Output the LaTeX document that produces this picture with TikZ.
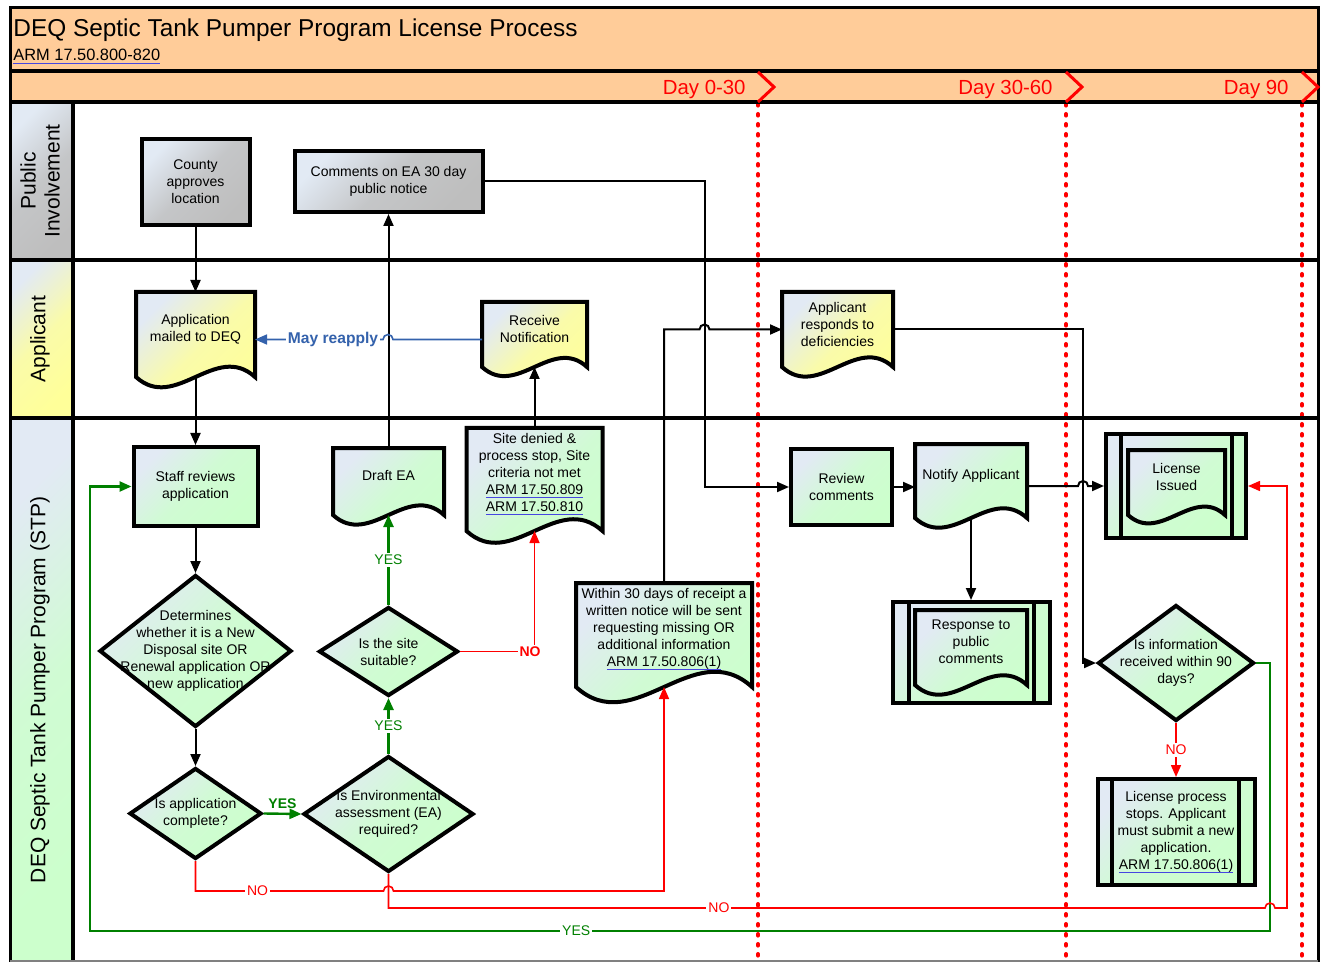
\documentclass[tikz,border=0pt]{standalone}
\usepackage{fontspec}
\setmainfont{Liberation Sans}
\usetikzlibrary{calc}
\usetikzlibrary{positioning}
\usetikzlibrary{shapes.geometric, arrows.meta}

\definecolor{peach}{RGB}{255,204,153}
\definecolor{pale}{RGB}{226,234,244}
\definecolor{lgreen}{RGB}{204,255,204}
\definecolor{lyellow}{RGB}{255,255,153}
\definecolor{lgray}{RGB}{190,190,190}
\definecolor{yesgreen}{RGB}{0,128,0}
\definecolor{nored}{RGB}{255,0,0}
\definecolor{reblue}{RGB}{52,98,172}
\definecolor{armblue}{RGB}{70,70,225}

\newcommand{\nodefont}{\fontsize{7}{8.5}\selectfont}
\newsavebox{\armbox}
\newcommand{\armref}[1]{\sbox{\armbox}{#1}\rlap{\color{armblue}\rule[-1.6pt]{\wd\armbox}{0.5pt}}\usebox{\armbox}}

\tikzset{grad/.style={top color=pale, bottom color=#1, middle color=#1!82!pale, shading angle=45}}
\tikzstyle{box} = [draw, line width=2pt, inner sep=1pt, align=center, font=\nodefont]
\tikzstyle{graybox} = [box, grad=lgray]
\tikzstyle{greenbox} = [box, grad=lgreen]
\tikzstyle{decision} = [greenbox, diamond, inner sep=0pt]
\tikzstyle{doc} = [inner sep=0pt, outer sep=0pt]
\tikzstyle{txt} = [font=\nodefont, align=center, inner sep=0pt]
\tikzstyle{docline} = [line width=2pt]
\tikzstyle{arrow} = [line width=1pt, -{Triangle[length=6pt,width=5pt]}]
\tikzstyle{yesarrow} = [arrow, yesgreen, line width=1.2pt]
\tikzstyle{noarrow} = [arrow, nored, line width=0.8pt]
\tikzstyle{yeslabel} = [font=\nodefont, text=yesgreen, fill=white, inner sep=1pt]
\tikzstyle{nolabel} = [font=\nodefont, text=nored, fill=white, inner sep=1pt]
\tikzstyle{lane} = [font=\fontsize{10.5}{12}\selectfont, align=center, rotate=90]
\tikzstyle{daymark} = [nored, line width=1.5pt]
\tikzstyle{daylabel} = [font=\fontsize{10.2}{12}\selectfont, text=nored, anchor=base east, inner sep=0pt]
\tikzstyle{dayline} = [nored, line width=2pt, line cap=round, dash pattern=on 0.8pt off 4.2pt]
\tikzstyle{sepline} = [line width=2pt]

% document shape with wavy bottom, drawn round a placeholder node
\newcommand{\docshape}[3]{%
  \draw[docline, grad=#2]
    let \p1=(#1.south west), \p2=(#1.south east), \n1={\x2-\x1} in
    (#1.north west) -- (#1.north east) -- (\p2)
    .. controls +({-0.33*\n1},{0.3*\n1}) and +({0.33*\n1},{-0.3*\n1}) .. (\p1) -- cycle;
  \node[txt] (#1 text) at ([yshift=2.75pt]#1.center) {#3};}
% side bars of a predefined process box
\newcommand{\subbars}[3]{%
  \draw[docline] ($(#1.north west)+(#2,0)$) -- ($(#1.south west)+(#2,0)$)
    ($(#1.north east)-(#3,0)$) -- ($(#1.south east)-(#3,0)$);}

\begin{document}
\begin{tikzpicture}[x=0.5pt, y=-0.5pt]
	\useasboundingbox (0,0) rectangle (1322,962);
	% bands and lane heads
	\fill[peach] (10,8) rectangle (1318,102);
	\fill[grad=lgray] (10,102) rectangle (73,260);
	\fill[grad=lyellow] (10,260) rectangle (73,418);
	\fill[grad=lgreen] (10,418) rectangle (73,962);
	\foreach \x in {758,1066,1302}
		\draw[dayline] (\x,104) -- (\x,962);
	\draw[line width=1.5pt] (10,962) -- (10,8) -- (1318,8) -- (1318,962);
	\draw[sepline] (10,71) -- (1318,71) (10,102) -- (1318,102);
	\draw[sepline] (10,260) -- (1318,260) (10,418) -- (1318,418);
	\draw[sepline] (73,102) -- (73,962);
	\draw[gray, line width=0.75pt] (10,961) -- (1318,961);

	\node[anchor=base west, inner sep=0pt, font=\fontsize{12.2}{14}\selectfont] (title) at (13,36.5) {DEQ Septic Tank Pumper Program License Process};
	\node[below=12pt of title.base west, anchor=base west, inner sep=0pt, font=\fontsize{8.2}{10}\selectfont] (arm) {\armref{ARM 17.50.800-820}};
	\node[daylabel] (day1) at (746,94.5) {Day 0-30};
	\node[daylabel] (day2) at (1053,94.5) {Day 30-60};
	\node[daylabel] (day3) at (1289,94.5) {Day 90};
	\foreach \x in {758,1066,1302}
		\draw[daymark] (\x,72) -- ++(16,15) -- ++(-16,15);

	\node[lane] (lanepub) at (40,181) {Public\\Involvement};
	\node[lane] (laneapp) at (40,339) {Applicant};
	\node[lane] (lanedeq) at (40,690) {DEQ Septic Tank Pumper Program (STP)};

	% Public Involvement
	\node[graybox, minimum width=54pt, minimum height=43pt] (county) at (195.5,182) {County\\approves\\location};
	\node[graybox, minimum width=94pt, minimum height=30.5pt] (comments) at (388.5,181.5) {Comments on EA 30 day\\public notice};

	% Applicant
	\node[doc, minimum width=59.5pt, minimum height=42.5pt] (mailed) at (195.5,334.5) {};
	\docshape{mailed}{lyellow}{Application\\mailed to DEQ}
	\node[doc, minimum width=52.5pt, minimum height=32.5pt] (receive) at (534.5,334.5) {};
	\docshape{receive}{lyellow}{Receive\\Notification}
	\node[doc, minimum width=55.5pt, minimum height=37.5pt] (responds) at (837.5,329.5) {};
	\docshape{responds}{lyellow}{Applicant\\responds to\\deficiencies}

	% DEQ
	\node[greenbox, minimum width=62pt, minimum height=39.5pt] (staff) at (195.5,486.5) {Staff reviews\\application};
	\node[decision, minimum width=96pt, minimum height=76pt, label={[txt]center:Determines\\whether it is a New\\Disposal site OR\\Renewal application OR\\new application}] (determ) at (195.5,651) {};
	\node[decision, minimum width=66pt, minimum height=45.5pt, label={[txt]center:Is application\\complete?}] (complete) at (195.5,813.5) {};
	\node[decision, minimum width=85pt, minimum height=58pt, label={[txt]center:Is Environmental\\assessment (EA)\\required?}] (ea) at (388.5,814) {};
	\node[decision, minimum width=69.5pt, minimum height=44.5pt, label={[txt]center:Is the site\\suitable?}] (suitable) at (388.5,651.5) {};
	\node[doc, minimum width=55.5pt, minimum height=33.5pt] (draft) at (388.5,481.5) {};
	\docshape{draft}{lgreen}{Draft EA}
	\node[doc, minimum width=68pt, minimum height=51.5pt] (denied) at (534.5,479.5) {};
	\docshape{denied}{lgreen}{Site denied \&\\process stop, Site\\criteria not met\\\armref{ARM 17.50.809}\\\armref{ARM 17.50.810}}
	\node[doc, minimum width=88pt, minimum height=52pt] (within) at (664,635) {};
	\docshape{within}{lgreen}{Within 30 days of receipt a\\written notice will be sent\\requesting missing OR\\additional information\\\armref{ARM 17.50.806(1)}}
	\node[greenbox, minimum width=50.5pt, minimum height=38pt] (review) at (841.5,487) {Review\\comments};
	\node[doc, minimum width=56pt, minimum height=37pt] (notify) at (971,481) {};
	\docshape{notify}{lgreen}{Notify Applicant}
	\node[greenbox, minimum width=78.5pt, minimum height=50.5pt] (response) at (971,652.5) {};
	\subbars{response}{18}{18}
	\node[doc, minimum width=56pt, minimum height=37.5pt] (responsedoc) at (971,647.5) {};
	\docshape{responsedoc}{lgreen}{Response to\\public\\comments}
	\node[greenbox, minimum width=70pt, minimum height=52pt] (issued) at (1176,486) {};
	\subbars{issued}{17}{16}
	\node[doc, minimum width=48.5pt, minimum height=32.5pt] (issuedoc) at (1176.5,482.5) {};
	\docshape{issuedoc}{lgreen}{License\\Issued}
	\node[decision, minimum width=78pt, minimum height=58pt, label={[txt]center:Is information\\received within 90\\days?}] (info) at (1176,663) {};
	\node[greenbox, minimum width=78.5pt, minimum height=53pt] (stops) at (1176,832) {License process\\stops. Applicant\\must submit a new\\application.\\\armref{ARM 17.50.806(1)}};
	\subbars{stops}{16}{18}

	% connectors
	\draw[arrow] (county.south) -- (mailed.north);
	\draw[arrow] (mailed.south) -- (staff.north);
	\draw[arrow] (staff.south) -- (determ.north);
	\draw[arrow] (determ.south) -- (complete.north);
	\draw[arrow] (draft.north) -- (comments.south);
	\draw[arrow] (denied.north) -- (receive.south);
	\draw[arrow] (comments.east) -- ++(220,0) |- (review.west);
	\draw[arrow] (within.north) -- (within.north |- responds.west) -- ++(35.5,0) arc[start angle=180, end angle=0, radius=2.5pt] -- (responds.west);
	\draw[arrow] (responds.east) -- ++(190,0) |- (info.west);
	\draw[arrow] (review.east) -- (review.east -| notify.west);
	\draw[arrow] (notify.east |- issued.west) -- ++(51,0) arc[start angle=180, end angle=0, radius=2.5pt] -- (issued.west);
	\draw[arrow] (notify.south) -- (response.north);
	\draw[arrow, reblue, line width=0.8pt] ([yshift=-2.5pt]receive.west) -- ++(-89,0) arc[start angle=0, end angle=180, radius=2.5pt]
		-- node[pos=0.39, fill=white, inner sep=1pt, text=reblue, font=\bfseries\fontsize{7.8}{9}\selectfont] (reapply) {May reapply} ([yshift=-2.5pt]mailed.east);

	\draw[yesarrow] (complete.east) -- node[above, inner sep=2pt, text=yesgreen, font=\nodefont\bfseries] (yes1) {YES} (ea.west);
	\draw[yesarrow] (ea.north) -- node[yeslabel] (yes2) {YES} (suitable.south);
	\draw[yesarrow] (suitable.north) -- node[yeslabel] (yes3) {YES} (draft.south);
	\draw[yesarrow] (info.east) -- ++(14,0) -- ++(0,268) -- node[yeslabel, pos=0.588] (yes4) {YES} ++(-1180,0) |- (staff.west);

	\draw[noarrow] (suitable.east) -| node[nolabel, pos=0.47, font=\nodefont\bfseries] (no1) {NO} (denied.south);
	\draw[noarrow] (complete.south) -- ++(0,30) -- node[nolabel, pos=0.33] (no2) {NO} ++(188,0) arc[start angle=180, end angle=0, radius=2.5pt] -| (within.south);
	\draw[noarrow] (ea.south) -- ++(0,34) -- node[nolabel, pos=0.377] (no3) {NO} ++(876.5,0) arc[start angle=180, end angle=0, radius=2.5pt] -- ++(12,0) |- (issued.east);
	\draw[noarrow] (info.south) -- node[nolabel] (no4) {NO} (stops.north);
\end{tikzpicture}
\end{document}
